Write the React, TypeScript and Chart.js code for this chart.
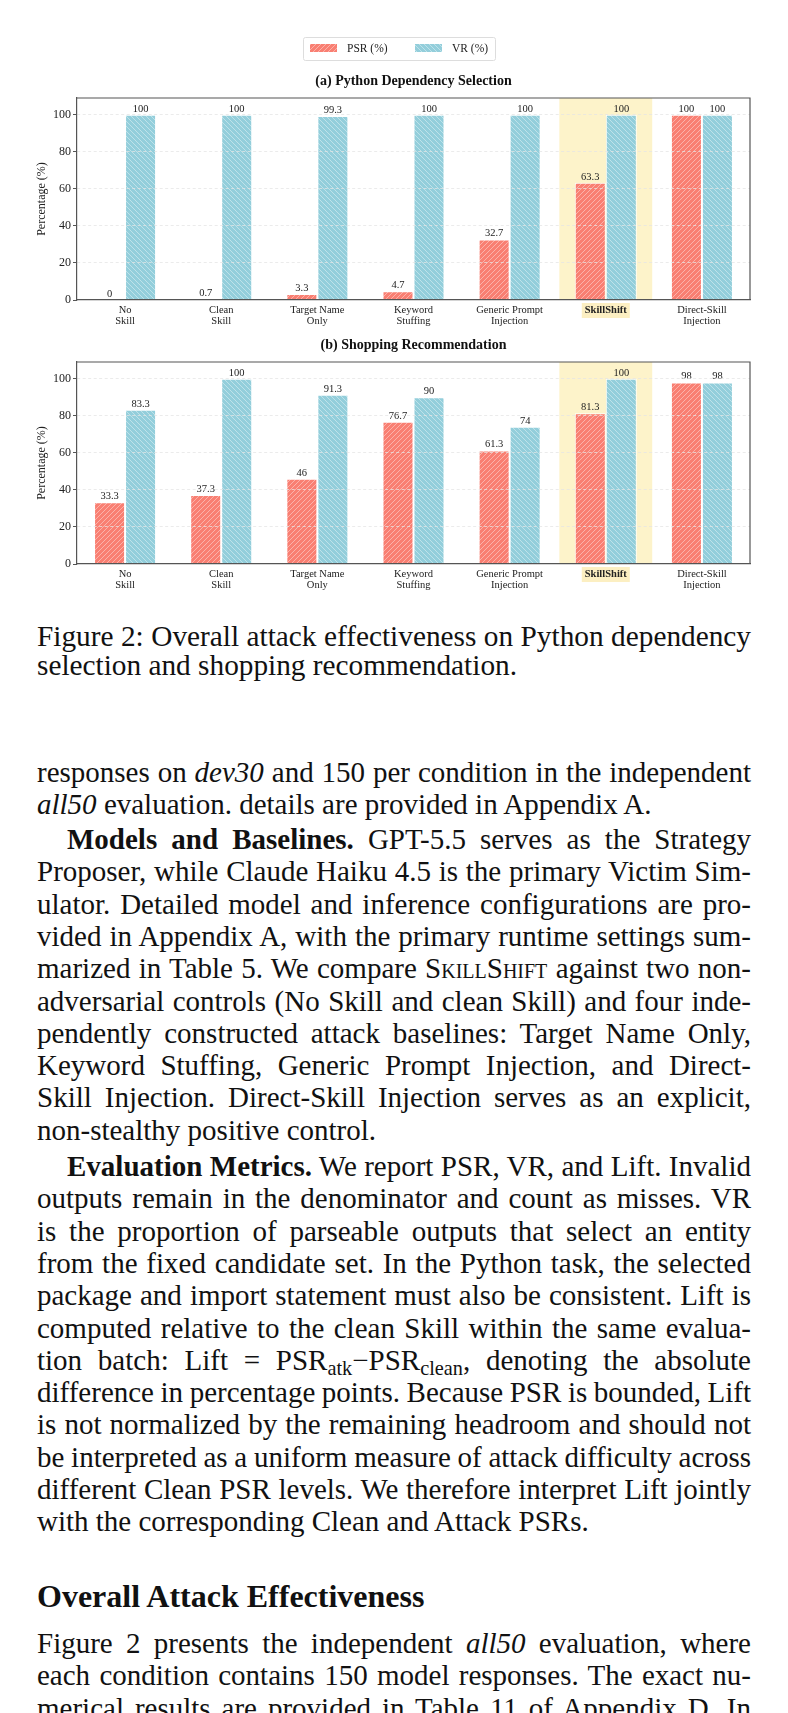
import React, { useEffect, useLayoutEffect, useRef } from 'react';
import { Chart, registerables } from 'chart.js';

Chart.register(...registerables);

// ---------------- data ----------------
const categories: (string | string[])[] = [
  ['No', 'Skill'],
  ['Clean', 'Skill'],
  ['Target Name', 'Only'],
  ['Keyword', 'Stuffing'],
  ['Generic Prompt', 'Injection'],
  'SkillShift',
  ['Direct-Skill', 'Injection'],
];
const highlightIndex = 5;
const seriesNames = ['PSR (%)', 'VR (%)'];
const pythonPSR = [0, 0.7, 3.3, 4.7, 32.7, 63.3, 100];
const pythonVR = [100, 100, 99.3, 100, 100, 100, 100];
const shoppingPSR = [33.3, 37.3, 46, 76.7, 61.3, 81.3, 98];
const shoppingVR = [83.3, 100, 91.3, 90, 74, 100, 98];
const yTickStep = 20;
const yMax = 109;
const yAxisTitle = 'Percentage (%)';
const panelTitles = ['(a) Python Dependency Selection', '(b) Shopping Recommendation'];

// ---------------- styles ----------------
const SERIF = '"Liberation Serif", "Times New Roman", serif';
const PSR_COLOR = '#F97F72';
const VR_COLOR = '#93CEDB';
const BAND_COLOR = '#FDF3CA';
const AXIS_COLOR = '#555555';
const TEXT_COLOR = '#222222';

function makeHatch(base: string, forward: boolean): CanvasPattern | string {
  const s = 5;
  const c = document.createElement('canvas');
  c.width = s;
  c.height = s;
  const g = c.getContext('2d');
  if (!g) return base;
  g.fillStyle = base;
  g.fillRect(0, 0, s, s);
  g.strokeStyle = 'rgba(255,255,255,0.45)';
  g.lineWidth = 0.9;
  g.beginPath();
  if (forward) {
    g.moveTo(0, s); g.lineTo(s, 0);
    g.moveTo(-s / 2, s / 2); g.lineTo(s / 2, -s / 2);
    g.moveTo(s / 2, s * 1.5); g.lineTo(s * 1.5, s / 2);
  } else {
    g.moveTo(0, 0); g.lineTo(s, s);
    g.moveTo(-s / 2, s / 2); g.lineTo(s / 2, s * 1.5);
    g.moveTo(s / 2, -s / 2); g.lineTo(s * 1.5, s / 2);
  }
  g.stroke();
  return g.createPattern(c, 'repeat') || base;
}

type PanelProps = {
  title: string;
  psr: number[];
  vr: number[];
  legend: boolean;
  width: number;
  height: number;
  padTop: number;
  padBottom: number;
};

function Panel({ title, psr, vr, legend, width, height, padTop, padBottom }: PanelProps) {
  const ref = useRef<HTMLCanvasElement | null>(null);
  useEffect(() => {
    const canvas = ref.current;
    if (!canvas) return;
    const psrFill = makeHatch(PSR_COLOR, true);
    const vrFill = makeHatch(VR_COLOR, false);

    const bandPlugin = {
      id: 'band',
      beforeDatasetsDraw(chart: any) {
        const x = chart.scales.x;
        const a = chart.chartArea;
        const cw = x.getPixelForValue(1) - x.getPixelForValue(0);
        const cx = x.getPixelForValue(highlightIndex);
        const ctx = chart.ctx;
        ctx.save();
        ctx.fillStyle = BAND_COLOR;
        ctx.fillRect(cx - cw * 0.483, a.top, cw * 0.966, a.bottom - a.top);
        ctx.restore();
      },
    };

    const labelPlugin = {
      id: 'valueLabels',
      afterDatasetsDraw(chart: any) {
        const ctx = chart.ctx;
        ctx.save();
        ctx.font = `10.5px ${SERIF}`;
        ctx.fillStyle = TEXT_COLOR;
        ctx.textAlign = 'center';
        ctx.textBaseline = 'alphabetic';
        chart.data.datasets.forEach((ds: any, di: number) => {
          const meta = chart.getDatasetMeta(di);
          meta.data.forEach((bar: any, i: number) => {
            const v = ds.data[i];
            ctx.fillText(String(v), bar.x, bar.y - 3);
          });
        });
        ctx.restore();
      },
    };

    const decorPlugin = {
      id: 'decor',
      afterDraw(chart: any) {
        const ctx = chart.ctx;
        const a = chart.chartArea;
        ctx.save();
        ctx.strokeStyle = AXIS_COLOR;
        ctx.lineWidth = 1.2;
        ctx.beginPath();
        ctx.moveTo(a.left, a.top);
        ctx.lineTo(a.right, a.top);
        ctx.lineTo(a.right, a.bottom);
        ctx.stroke();
        ctx.fillStyle = '#111';
        ctx.font = `bold 14px ${SERIF}`;
        ctx.textAlign = 'center';
        ctx.textBaseline = 'middle';
        ctx.fillText(title, (a.left + a.right) / 2, a.top - 17);
        ctx.save();
        ctx.translate(42, (a.top + a.bottom) / 2);
        ctx.rotate(-Math.PI / 2);
        ctx.font = `12px ${SERIF}`;
        ctx.fillStyle = TEXT_COLOR;
        ctx.fillText(yAxisTitle, 0, 0);
        ctx.restore();
        if (legend) {
          const bx = 303, by = 7, bw = 192, bh = 23;
          ctx.fillStyle = 'rgba(255,255,255,0.9)';
          ctx.strokeStyle = '#dddddd';
          ctx.lineWidth = 1;
          ctx.beginPath();
          (ctx as any).roundRect(bx + 0.5, by + 0.5, bw, bh, 2);
          ctx.fill();
          ctx.stroke();
          const items = [
            { name: seriesNames[0], fill: psrFill, x: 310 },
            { name: seriesNames[1], fill: vrFill, x: 415 },
          ];
          ctx.font = `11.5px ${SERIF}`;
          ctx.textAlign = 'left';
          ctx.textBaseline = 'middle';
          items.forEach((it) => {
            ctx.fillStyle = it.fill as any;
            ctx.fillRect(it.x, by + 7, 27, 8);
            ctx.fillStyle = TEXT_COLOR;
            ctx.fillText(it.name, it.x + 37, by + 11.5);
          });
        }
        ctx.restore();
      },
    };

    const chart = new Chart(canvas, {
      type: 'bar',
      data: {
        labels: categories as any,
        datasets: [
          {
            label: seriesNames[0],
            data: psr,
            backgroundColor: psrFill as any,
            borderColor: '#ffffff',
            borderWidth: 1,
            categoryPercentage: 0.645,
            barPercentage: 1,
          },
          {
            label: seriesNames[1],
            data: vr,
            backgroundColor: vrFill as any,
            borderColor: '#ffffff',
            borderWidth: 1,
            categoryPercentage: 0.645,
            barPercentage: 1,
          },
        ],
      },
      options: {
        animation: false,
        responsive: false,
        devicePixelRatio: 1,
        layout: { padding: { top: padTop, right: 38, left: 0, bottom: padBottom } },
        plugins: {
          legend: { display: false },
          tooltip: { enabled: false },
          title: { display: false },
        },
        scales: {
          x: {
            type: 'category',
            offset: true,
            grid: { display: false, drawTicks: false },
            border: { display: true, color: AXIS_COLOR, width: 1.2, z: 2 },
            ticks: {
              autoSkip: false,
              maxRotation: 0,
              minRotation: 0,
              padding: 5,
              color: TEXT_COLOR,
              font: (c: any) => ({
                family: SERIF,
                size: 10.5,
                weight: c.index === highlightIndex ? 'bold' : 'normal',
                lineHeight: 1.05,
              }),
              showLabelBackdrop: (c: any) => c.index === highlightIndex,
              backdropColor: '#FCEFC2',
              backdropPadding: { top: 2, bottom: 2, left: 3, right: 3 },
            } as any,
            afterFit: (s: any) => { s.height = 30; },
          },
          y: {
            min: 0,
            max: yMax,
            grid: {
              color: (c: any) => (c.tick && c.tick.value === 0 ? 'rgba(0,0,0,0)' : 'rgba(228,228,228,0.75)'),
              lineWidth: 1,
              drawTicks: true,
              tickLength: 4,
              tickColor: AXIS_COLOR,
              tickWidth: 1,
              tickBorderDash: [],
              z: 1,
            } as any,
            border: { display: true, color: AXIS_COLOR, width: 1.2, dash: [3, 2.5], z: 2 },
            ticks: {
              stepSize: yTickStep,
              includeBounds: false,
              padding: 2,
              color: TEXT_COLOR,
              font: { family: SERIF, size: 12 },
            } as any,
            afterFit: (s: any) => { s.width = 77; },
          },
        },
      },
      plugins: [bandPlugin, labelPlugin, decorPlugin],
    } as any);
    return () => chart.destroy();
  }, [title, psr, vr, legend, padTop, padBottom]);
  return <canvas ref={ref} width={width} height={height} style={{ display: 'block', width, height }} />;
}

// ---------------- text ----------------
type Seg = { t: string; i?: boolean; b?: boolean; sc?: boolean; sub?: boolean };
type TextLine = { y: number; segs: Seg[]; indent?: boolean; last?: boolean };

const bodyLines: TextLine[] = [
  { y: 773, segs: [{ t: 'responses on ' }, { t: 'dev30', i: true }, { t: ' and 150 per condition in the independent' }] },
  { y: 805, last: true, segs: [{ t: 'all50', i: true }, { t: ' evaluation. details are provided in Appendix A.' }] },
  { y: 840, indent: true, segs: [{ t: 'Models and Baselines.', b: true }, { t: ' GPT-5.5 serves as the Strategy' }] },
  { y: 872.3, segs: [{ t: 'Proposer, while Claude Haiku 4.5 is the primary Victim Sim-' }] },
  { y: 904.6, segs: [{ t: 'ulator. Detailed model and inference configurations are pro-' }] },
  { y: 936.9, segs: [{ t: 'vided in Appendix A, with the primary runtime settings sum-' }] },
  { y: 969.2, segs: [{ t: 'marized in Table 5. We compare ' }, { t: 'SkillShift', sc: true }, { t: ' against two non-' }] },
  { y: 1001.5, segs: [{ t: 'adversarial controls (No Skill and clean Skill) and four inde-' }] },
  { y: 1033.8, segs: [{ t: 'pendently constructed attack baselines: Target Name Only,' }] },
  { y: 1066.1, segs: [{ t: 'Keyword Stuffing, Generic Prompt Injection, and Direct-' }] },
  { y: 1098.4, segs: [{ t: 'Skill Injection. Direct-Skill Injection serves as an explicit,' }] },
  { y: 1130.7, last: true, segs: [{ t: 'non-stealthy positive control.' }] },
  { y: 1167, indent: true, segs: [{ t: 'Evaluation Metrics.', b: true }, { t: ' We report PSR, VR, and Lift. Invalid' }] },
  { y: 1199.3, segs: [{ t: 'outputs remain in the denominator and count as misses. VR' }] },
  { y: 1231.6, segs: [{ t: 'is the proportion of parseable outputs that select an entity' }] },
  { y: 1263.9, segs: [{ t: 'from the fixed candidate set. In the Python task, the selected' }] },
  { y: 1296.2, segs: [{ t: 'package and import statement must also be consistent. Lift is' }] },
  { y: 1328.5, segs: [{ t: 'computed relative to the clean Skill within the same evalua-' }] },
  {
    y: 1360.8,
    segs: [
      { t: 'tion batch: ' },
      { t: 'Lift' },
      { t: ' = ' },
      { t: 'PSR' },
      { t: 'atk', sub: true },
      { t: '\u2212' },
      { t: 'PSR' },
      { t: 'clean', sub: true },
      { t: ', denoting the absolute' },
    ],
  },
  { y: 1393.1, segs: [{ t: 'difference in percentage points. Because PSR is bounded, Lift' }] },
  { y: 1425.4, segs: [{ t: 'is not normalized by the remaining headroom and should not' }] },
  { y: 1457.7, segs: [{ t: 'be interpreted as a uniform measure of attack difficulty across' }] },
  { y: 1490, segs: [{ t: 'different Clean PSR levels. We therefore interpret Lift jointly' }] },
  { y: 1522.3, last: true, segs: [{ t: 'with the corresponding Clean and Attack PSRs.' }] },
  { y: 1644, segs: [{ t: 'Figure 2 presents the independent ' }, { t: 'all50', i: true }, { t: ' evaluation, where' }] },
  { y: 1676.3, segs: [{ t: 'each condition contains 150 model responses. The exact nu-' }] },
  { y: 1708.6, segs: [{ t: 'merical results are provided in Table 11 of Appendix D. In' }] },
];

const captionLines: TextLine[] = [
  { y: 637, segs: [{ t: 'Figure 2: Overall attack effectiveness on Python dependency' }] },
  { y: 666, last: true, segs: [{ t: 'selection and shopping recommendation.' }] },
];

const heading = { y: 1597, text: 'Overall Attack Effectiveness' };

const TEXT_LEFT = 37;
const TEXT_WIDTH = 714;
const INDENT = 30;
const BODY_SIZE = 29;
const CAPTION_SIZE = 29.3;

function renderSeg(s: Seg, k: number) {
  const style: React.CSSProperties = {};
  if (s.i) style.fontStyle = 'italic';
  if (s.b) style.fontWeight = 'bold';
  if (s.sc) style.fontVariant = 'small-caps';
  if (s.sub) {
    style.fontSize = '0.7em';
    style.verticalAlign = '-0.25em';
  }
  return (
    <span key={k} style={style}>
      {s.t}
    </span>
  );
}

function Line({ line, size }: { line: TextLine; size: number }) {
  const indent = line.indent ? INDENT : 0;
  const divRef = useRef<HTMLDivElement | null>(null);
  const spanRef = useRef<HTMLSpanElement | null>(null);
  useLayoutEffect(() => {
    const div = divRef.current;
    const span = spanRef.current;
    if (!div || !span) return;
    // measure natural width (un-justified)
    div.style.textAlignLast = 'left';
    div.style.wordSpacing = '0px';
    const natural = span.getBoundingClientRect().width;
    const avail = TEXT_WIDTH - indent;
    const text = line.segs.map((s) => s.t).join('');
    const spaces = (text.match(/ /g) || []).length;
    if (natural > avail - 0.5 && spaces > 0) {
      div.style.wordSpacing = `${-((natural - avail) / spaces) - 0.4}px`;
    }
    div.style.textAlignLast = line.last ? 'left' : 'justify';
  }, [line, size, indent]);
  return (
    <div
      ref={divRef}
      style={{
        position: 'absolute',
        left: TEXT_LEFT + indent,
        width: TEXT_WIDTH - indent,
        top: line.y - 17,
        height: 32,
        lineHeight: '32px',
        fontSize: size,
        textAlign: 'justify',
        textAlignLast: line.last ? 'left' : 'justify',
        whiteSpace: 'nowrap',
      } as React.CSSProperties}
    >
      <span ref={spanRef}>{line.segs.map(renderSeg)}</span>
    </div>
  );
}

export default function App() {
  return (
    <div
      style={{
        position: 'absolute',
        left: 0,
        top: 0,
        width: 788,
        height: 1713,
        overflow: 'hidden',
        background: '#ffffff',
        fontFamily: SERIF,
        color: '#111111',
      }}
    >
      <div style={{ position: 'absolute', left: 0, top: 30 }}>
        <Panel title={panelTitles[0]} psr={pythonPSR} vr={pythonVR} legend={true} width={788} height={300} padTop={68} padBottom={0} />
      </div>
      <div style={{ position: 'absolute', left: 0, top: 330 }}>
        <Panel title={panelTitles[1]} psr={shoppingPSR} vr={shoppingVR} legend={false} width={788} height={270} padTop={32} padBottom={6} />
      </div>
      {captionLines.map((l, i) => (
        <Line key={'c' + i} line={l} size={CAPTION_SIZE} />
      ))}
      <div
        style={{
          position: 'absolute',
          left: TEXT_LEFT,
          top: heading.y - 20,
          height: 38,
          lineHeight: '38px',
          fontSize: 32,
          fontWeight: 'bold',
          whiteSpace: 'nowrap',
        }}
      >
        {heading.text}
      </div>
      {bodyLines.map((l, i) => (
        <Line key={'b' + i} line={l} size={BODY_SIZE} />
      ))}
    </div>
  );
}
